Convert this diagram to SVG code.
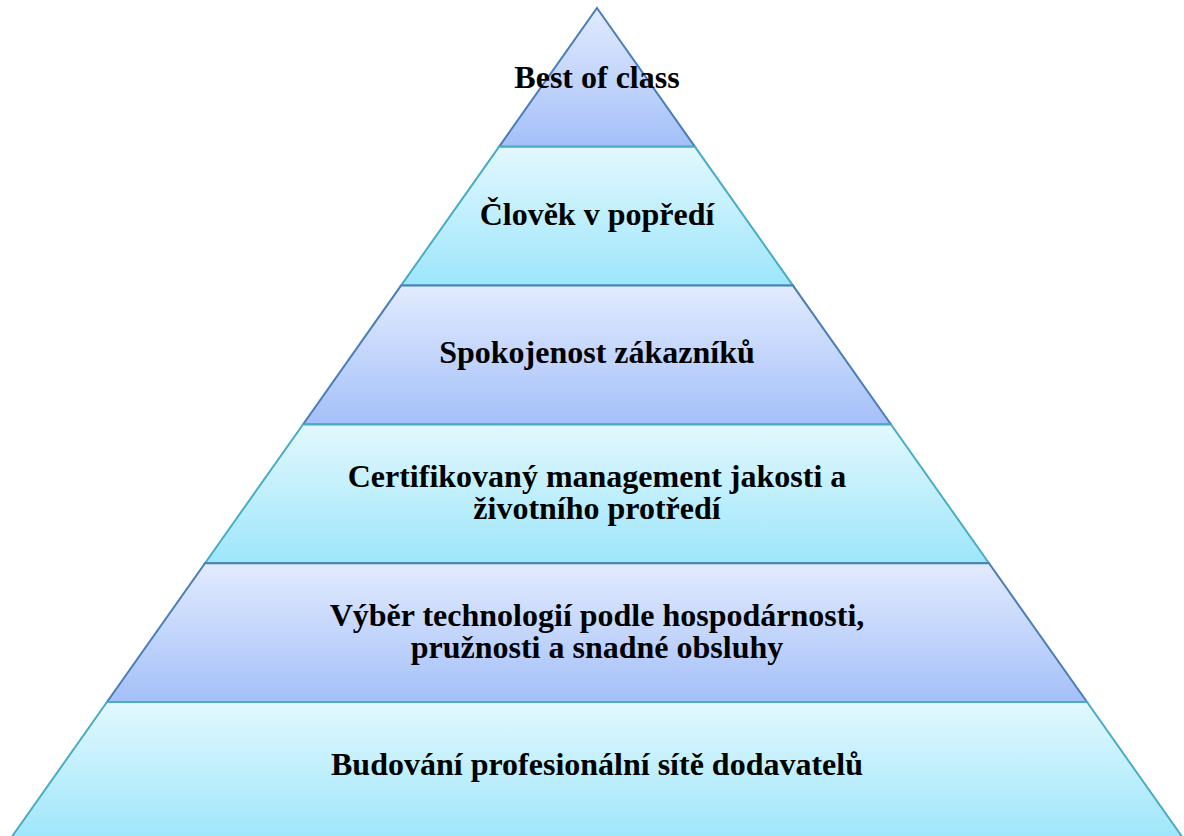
<svg xmlns="http://www.w3.org/2000/svg" width="1184" height="836" viewBox="0 0 1184 836">
  <defs>
    <linearGradient id="gBlue" x1="0" y1="0" x2="0" y2="1">
      <stop offset="0" stop-color="#e2ebfe"/>
      <stop offset="1" stop-color="#a4c0f9"/>
    </linearGradient>
    <linearGradient id="gCyan" x1="0" y1="0" x2="0" y2="1">
      <stop offset="0" stop-color="#e2f8fe"/>
      <stop offset="1" stop-color="#9de6fb"/>
    </linearGradient>
    <style>
      .blue { fill: url(#gBlue); stroke: #4a7ebb; stroke-width: 2; stroke-linejoin: miter; }
      .cyan { fill: url(#gCyan); stroke: #4bacc6; stroke-width: 2; stroke-linejoin: miter; }
      text { font-family: "Liberation Serif", "Times New Roman", serif; font-weight: bold; font-size: 32px; fill: #000; text-anchor: middle; }
    </style>
  </defs>
  <rect width="1184" height="836" fill="#ffffff"/>

  <!-- pyramid tiers, drawn top to bottom so each lower tier's edge sits on top -->
  <g id="level1">
    <polygon class="blue" points="597,8 695,146.8 499,146.8"/>
    <text x="597" y="88">Best of class</text>
  </g>
  <g id="level2">
    <polygon class="cyan" points="499,146.8 695,146.8 793,285.6 401,285.6"/>
    <text x="597" y="225">Člověk v popředí</text>
  </g>
  <g id="level3">
    <polygon class="blue" points="401,285.6 793,285.6 891,424.4 303,424.4"/>
    <text x="597" y="363">Spokojenost zákazníků</text>
  </g>
  <g id="level4">
    <polygon class="cyan" points="303,424.4 891,424.4 989,563.2 205,563.2"/>
    <text x="597" y="487">Certifikovaný management jakosti a</text>
    <text x="597" y="519">životního protředí</text>
  </g>
  <g id="level5">
    <polygon class="blue" points="205,563.2 989,563.2 1087,702 107,702"/>
    <text x="597" y="626">Výběr technologií podle hospodárnosti,</text>
    <text x="597" y="658">pružnosti a snadné obsluhy</text>
  </g>
  <g id="level6">
    <polygon class="cyan" points="107,702 1087,702 1185,840.8 9,840.8"/>
    <text x="597" y="775">Budování profesionální sítě dodavatelů</text>
  </g>
  <g id="connectors"/>
</svg>
